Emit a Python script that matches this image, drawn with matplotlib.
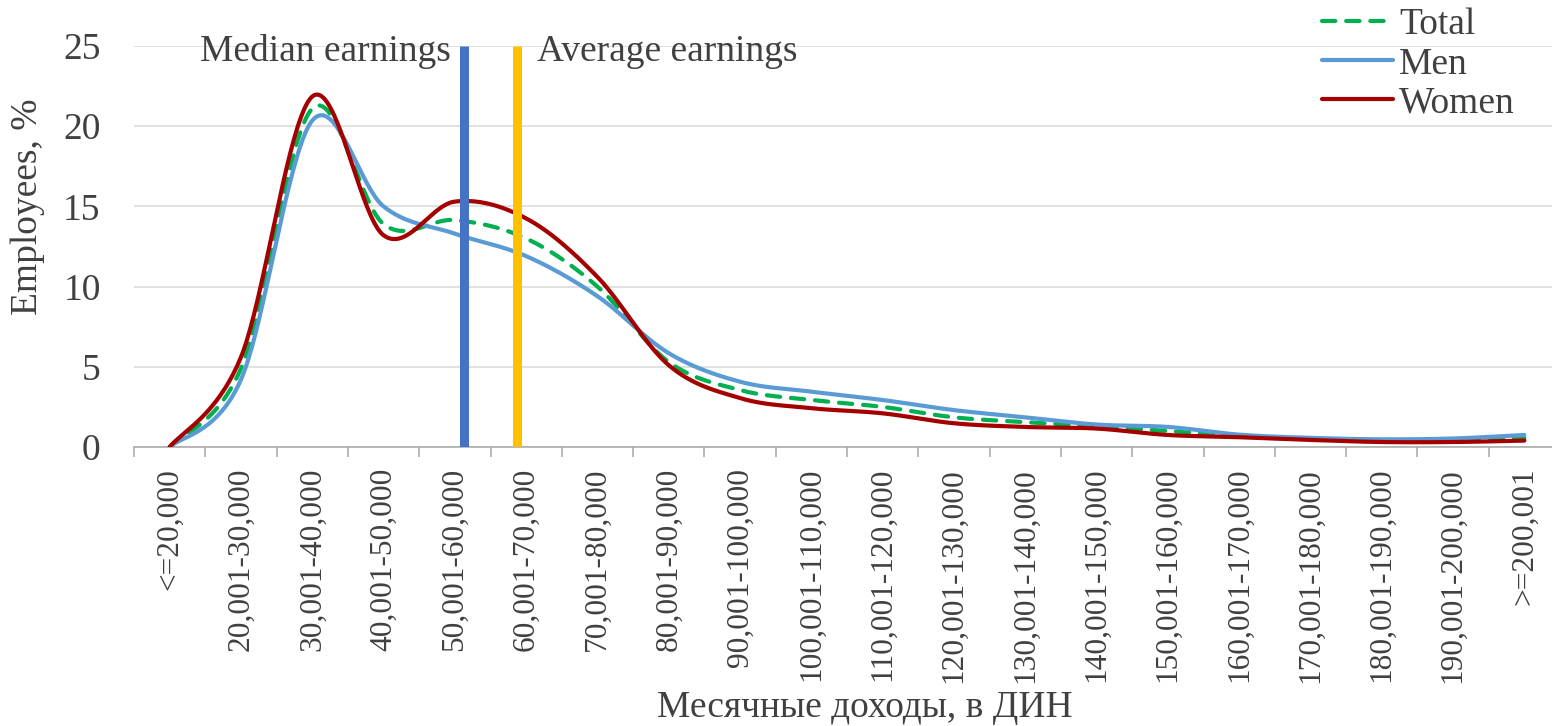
import numpy as np
import matplotlib.pyplot as plt

plt.rcParams['font.family'] = ['Liberation Serif', 'DejaVu Serif']

categories = ['<=20,000', '20,001-30,000', '30,001-40,000', '40,001-50,000',
              '50,001-60,000', '60,001-70,000', '70,001-80,000', '80,001-90,000',
              '90,001-100,000', '100,001-110,000', '110,001-120,000',
              '120,001-130,000', '130,001-140,000', '140,001-150,000',
              '150,001-160,000', '160,001-170,000', '170,001-180,000',
              '180,001-190,000', '190,001-200,000', '>=200,001']
total = [0.0, 4.9, 21.1, 13.9, 14.15, 13.0, 10.0, 5.3, 3.55, 2.93, 2.5,
         1.85, 1.55, 1.3, 1.0, 0.68, 0.5, 0.4, 0.42, 0.55]
men = [0.0, 4.2, 20.35, 15.0, 13.3, 11.9, 9.4, 5.85, 4.07, 3.45, 2.93,
       2.3, 1.85, 1.4, 1.25, 0.77, 0.57, 0.48, 0.53, 0.75]
women = [0.0, 5.6, 21.85, 13.2, 15.3, 14.25, 10.6, 5.1, 3.05, 2.42, 2.1,
         1.48, 1.25, 1.15, 0.75, 0.61, 0.44, 0.31, 0.31, 0.4]
median_pos = 4.13   # position of median earnings line (category units)
average_pos = 4.87  # position of average earnings line

TXT = '#404040'


def smooth(y, n=40):
    # Excel-like smoothed line (Catmull-Rom / Bezier)
    y = np.asarray(y, float)
    x = np.arange(len(y), dtype=float)
    px = np.concatenate([[x[0]], x, [x[-1]]])
    py = np.concatenate([[y[0]], y, [y[-1]]])
    t = np.linspace(0, 1, n)[:, None]
    xs, ys = [], []
    for i in range(1, len(px) - 2):
        p0 = np.array([px[i], py[i]])
        p1 = np.array([px[i + 1], py[i + 1]])
        c1 = p0 + (p1 - np.array([px[i - 1], py[i - 1]])) / 6
        c2 = p1 - (np.array([px[i + 2], py[i + 2]]) - p0) / 6
        b = ((1 - t) ** 3) * p0 + 3 * ((1 - t) ** 2) * t * c1 + 3 * (1 - t) * t ** 2 * c2 + t ** 3 * p1
        xs.append(b[:, 0])
        ys.append(b[:, 1])
    return np.concatenate(xs), np.concatenate(ys)


fig = plt.figure(figsize=(15.52, 7.26), dpi=100)
ax = fig.add_axes([134 / 1552, 1 - 447 / 726, (1560 - 134) / 1552, (447 - 46) / 726])

xt, yt = smooth(total)
ln, = ax.plot(xt, yt, color='#00B050', lw=3, label='Total', dash_capstyle='round', zorder=3)
ln.set_dashes((3.2, 2.6))
xm, ym = smooth(men)
ax.plot(xm, ym, color='#5B9BD5', lw=3, label='Men', solid_capstyle='round', zorder=4)
xw, yw = smooth(women)
ax.plot(xw, yw, color='#A50000', lw=3, label='Women', solid_capstyle='round', zorder=5)

ax.plot([median_pos, median_pos], [0, 25], color='#4472C4', lw=6.5, solid_capstyle='butt', zorder=6)
ax.plot([average_pos, average_pos], [0, 25], color='#FFC000', lw=6.5, solid_capstyle='butt', zorder=6)

ax.text(3.95, 24.05, 'Median earnings', ha='right', va='baseline', fontsize=27, color=TXT, zorder=7)
ax.text(5.15, 24.05, 'Average earnings', ha='left', va='baseline', fontsize=27, color=TXT, zorder=7)

ax.set_xlim(-0.5, 19.5)
ax.set_ylim(0, 25)
ax.set_yticks(np.arange(0, 26, 5))
ax.set_xticks(np.arange(len(categories)))
ax.set_xticklabels(categories, rotation=90, fontsize=22.6, color=TXT)
ax.set_xticks(np.arange(-0.5, 20, 1), minor=True)
ax.tick_params(axis='x', which='major', length=0, pad=15)
ax.tick_params(axis='x', which='minor', length=7, width=1.1, color='#A6A6A6', direction='out')
ax.tick_params(axis='y', length=0, pad=24, labelsize=27, labelcolor=TXT)

ax.grid(axis='y', color='#D9D9D9', lw=1.1)
ax.set_axisbelow(True)
for s in ['left', 'right', 'top']:
    ax.spines[s].set_visible(False)
ax.spines['bottom'].set_color('#A6A6A6')
ax.spines['bottom'].set_linewidth(1.1)
ax.spines['bottom'].set_zorder(2)

fig.text(28 / 1552, 1 - 207 / 726, 'Employees, %', rotation=90, ha='center', va='center',
         fontsize=27, color=TXT)
fig.text(865 / 1552, 1 - 708 / 726, 'Месячные доходы, в ДИН', ha='center', va='center',
         fontsize=27, color=TXT)

leg = ax.legend(loc='upper left', bbox_to_anchor=(1322 / 1552, 1 - 8 / 726),
                bbox_transform=fig.transFigure, frameon=False, fontsize=27,
                borderpad=0, borderaxespad=0, handlelength=1.9, handletextpad=0.15,
                labelspacing=0.12)
for t in leg.get_texts():
    t.set_color(TXT)

fig.savefig('out.png', dpi=100)
